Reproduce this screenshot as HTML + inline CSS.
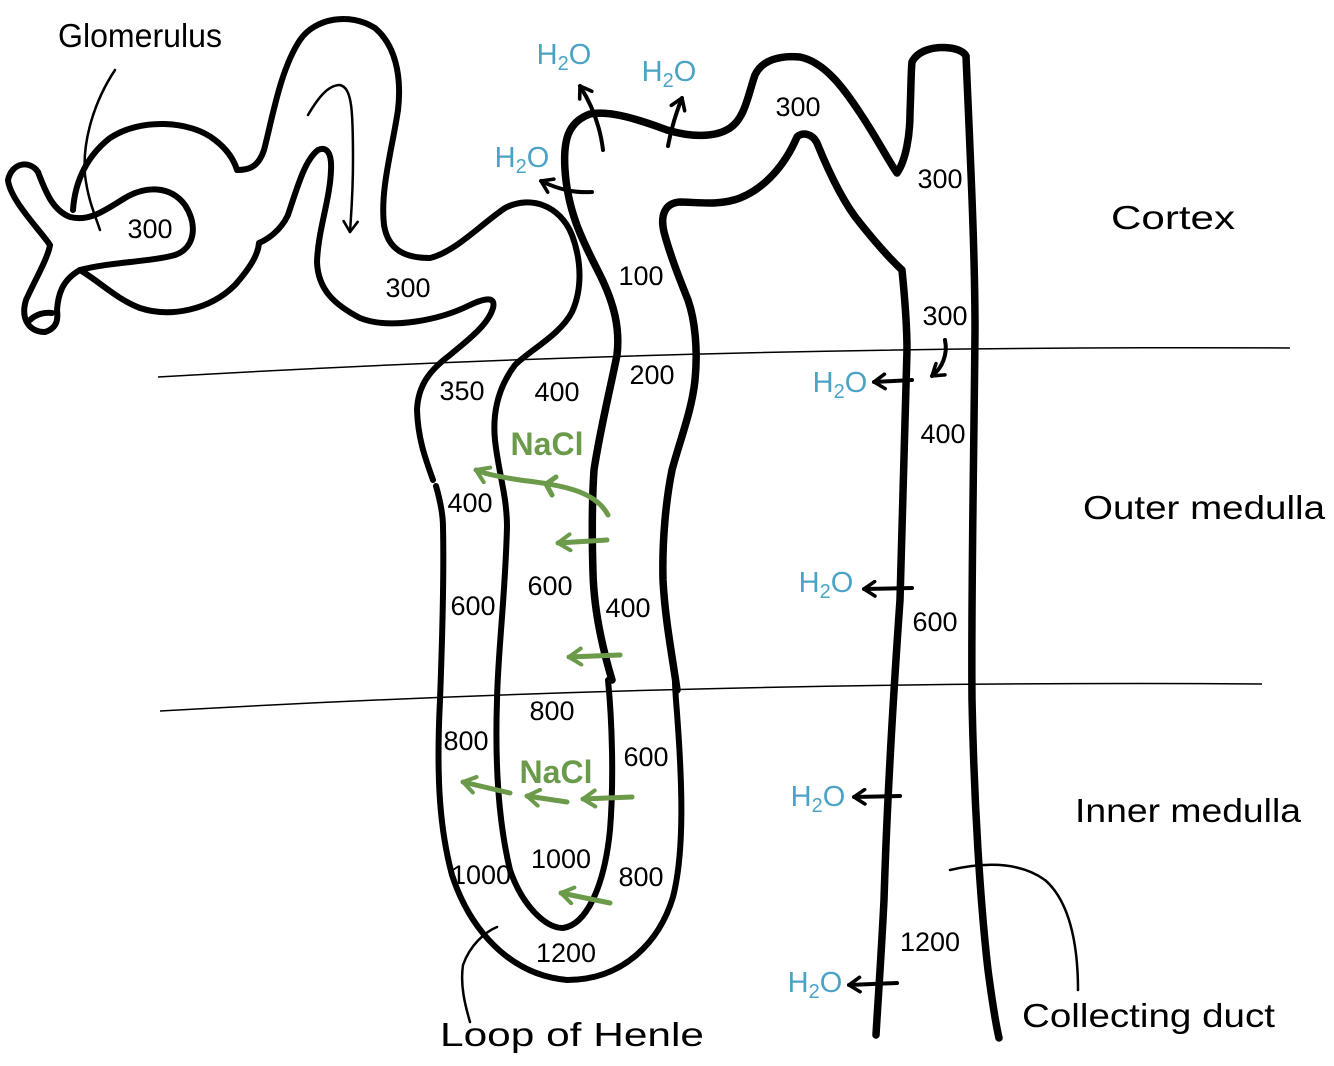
<!DOCTYPE html>
<html><head><meta charset="utf-8"><style>
html,body{margin:0;padding:0;background:#fff;}
svg{display:block;}
text{font-family:"Liberation Sans",sans-serif;}
</style></head><body>
<svg width="1334" height="1066" viewBox="0 0 1334 1066" xmlns="http://www.w3.org/2000/svg">
<defs>
<marker id="ah" viewBox="0 0 10 10" refX="8" refY="5" markerWidth="4.5" markerHeight="4.5" orient="auto"><path d="M2,1 L8,5 L2,9" fill="none" stroke="#000" stroke-width="2" stroke-linecap="round" stroke-linejoin="round"/></marker>
<marker id="ahs" viewBox="0 0 10 10" refX="8" refY="5" markerWidth="7" markerHeight="7" orient="auto"><path d="M2,1 L8,5 L2,9" fill="none" stroke="#000" stroke-width="1.5" stroke-linecap="round" stroke-linejoin="round"/></marker>
<marker id="gh" viewBox="0 0 10 10" refX="8" refY="5" markerWidth="4" markerHeight="4" orient="auto"><path d="M2,1 L8,5 L2,9" fill="none" stroke="#6a9a4a" stroke-width="2" stroke-linecap="round" stroke-linejoin="round"/></marker>
</defs>
<path d="M158,377 Q700,345 1290,348" fill="none" stroke="#000" stroke-width="1.5"/>
<path d="M160,711 Q700,680 1262,684" fill="none" stroke="#000" stroke-width="1.5"/>

<g fill="none" stroke="#000" stroke-width="6" stroke-linecap="round" stroke-linejoin="round">
<path d="M38,172 C30,160 12,162 8,180 C10,200 40,230 50,245 C48,258 35,280 26,300 C20,320 30,332 45,332 C58,328 58,318 57,310 C58,295 62,280 80,270"/>
<path d="M38,172 C45,190 52,210 70,217 C90,222 105,210 125,198 C145,186 170,185 185,205 C198,225 195,248 175,255 C150,262 110,262 80,270"/>
<path d="M30,320 C36,314 45,312 52,313"/>
<path d="M73,210 C75,180 88,155 110,138 C140,118 190,120 215,140 C228,150 234,160 237,170 C248,170 258,168 264,150 C272,120 280,70 300,40 C315,18 350,12 375,28 C395,45 402,75 398,110 C392,150 380,190 384,225 C388,250 405,258 430,258 C455,252 480,225 505,208 C530,195 560,205 572,235 C582,262 582,290 572,312 C560,335 530,350 515,365 C500,385 492,410 495,440 C497,460 502,480 505,500 C507,515 507,522 507,527"/>
<path d="M80,270 C100,282 118,300 140,308 C170,318 210,310 235,285 C250,268 258,255 259,243 C266,240 280,232 288,215 C298,185 305,160 318,150 C326,146 332,152 331,170 C330,200 318,230 317,262 C318,290 335,305 360,318 C390,330 440,320 470,305 C485,298 496,296 493,308 C488,325 468,340 450,355 C430,370 418,385 417,410 C418,440 426,460 433,480"/>
<path d="M436,486 C440,500 443,515 443,527"/>
<path d="M443,527 C444,570 443,620 440,700 C436,780 440,830 452,875 C470,930 510,975 567,980 C625,980 660,940 673,897 C685,850 682,780 677,713 C676,700 675,690 675,680"/>
<path d="M507,527 C505,600 498,650 497,700 C495,760 498,820 510,870 C522,905 545,928 563,928 C585,925 604,890 610,830 C614,780 612,720 608,680"/>
<path stroke-width="7.5" d="M612,680 C603,650 594,610 593,573 C592,540 592,500 594,470 C600,430 610,390 617,355 C620,330 615,305 600,275 C585,245 568,215 565,170 C563,140 568,122 590,114 C610,110 640,120 667,130 C690,137 715,138 730,128 C745,118 748,95 755,75 C762,60 780,55 800,57 C825,62 845,90 860,113 C875,135 888,160 897,173 C906,160 910,135 910,113 C911,90 911,70 912,62 C918,50 935,46 950,48 C958,49 964,52 966,56"/>
<path stroke-width="7.5" d="M677,690 C673,660 665,620 663,580 C662,540 666,500 672,470 C680,440 692,410 695,380 C698,350 695,320 688,300 C680,280 670,255 664,232 C660,215 665,203 680,202 C695,202 720,206 740,198 C765,188 785,165 797,137 C802,132 812,133 817,143 C830,175 845,205 860,223 C872,238 888,257 902,270 C905,300 907,330 907,350 C906,400 903,500 900,600 C893,700 887,800 884,900 C881,960 878,1000 876,1035"/>
<path stroke-width="7.5" d="M966,56 C970,150 975,250 975,330 C974,450 971,600 972,700 C974,800 980,900 988,970 C992,1000 996,1025 999,1038"/>
</g>
<g fill="none" stroke="#000" stroke-width="2.5" stroke-linecap="round">
<path d="M115,70 C95,100 82,140 85,175 C88,200 95,215 100,230"/>
<path d="M497,927 C485,932 470,945 463,965 C460,985 465,1005 470,1022"/>
<path d="M950,870 C985,862 1020,862 1045,880 C1068,900 1078,940 1078,990"/>
<path d="M308,115 C318,98 328,85 340,85 C352,88 353,110 353,160 C353,195 351,215 350,232" marker-end="url(#ahs)"/>
</g>
<g fill="none" stroke="#000" stroke-width="4" stroke-linecap="round">
<path d="M603,150 C600,125 592,105 580,86" marker-end="url(#ah)"/>
<path d="M668,146 C672,125 678,108 682,98" marker-end="url(#ah)"/>
<path d="M592,192 C575,193 560,190 541,181" marker-end="url(#ah)"/>
<path d="M945,340 C948,355 942,368 932,376" marker-end="url(#ah)"/>
<path d="M912,380 L874,382" marker-end="url(#ah)"/>
<path d="M912,588 L864,589" marker-end="url(#ah)"/>
<path d="M900,796 L854,797" marker-end="url(#ah)"/>
<path d="M897,983 L849,985" marker-end="url(#ah)"/>
</g>
<g fill="none" stroke="#6a9a4a" stroke-width="5" stroke-linecap="round" stroke-linejoin="round">
<path d="M608,515 C595,490 560,485 520,480 C500,477 485,474 476,470" marker-end="url(#gh)"/>
<path d="M556,477 L546,484 L552,495"/>
<path d="M607,540 L558,543" marker-end="url(#gh)"/>
<path d="M620,655 L569,657" marker-end="url(#gh)"/>
<path d="M510,793 L463,782" marker-end="url(#gh)"/>
<path d="M567,802 L527,796" marker-end="url(#gh)"/>
<path d="M632,797 L583,799" marker-end="url(#gh)"/>
<path d="M610,903 L561,893" marker-end="url(#gh)"/>
</g>
<g font-size="27" fill="#000" text-anchor="middle">
<text x="150" y="238">300</text>
<text x="408" y="297">300</text>
<text x="462" y="400">350</text>
<text x="557" y="401">400</text>
<text x="652" y="384">200</text>
<text x="641" y="285">100</text>
<text x="470" y="512">400</text>
<text x="550" y="595">600</text>
<text x="473" y="615">600</text>
<text x="628" y="617">400</text>
<text x="552" y="720">800</text>
<text x="466" y="750">800</text>
<text x="646" y="766">600</text>
<text x="561" y="868">1000</text>
<text x="481" y="884">1000</text>
<text x="641" y="886">800</text>
<text x="566" y="962">1200</text>
<text x="798" y="116">300</text>
<text x="940" y="188">300</text>
<text x="945" y="325">300</text>
<text x="943" y="443">400</text>
<text x="935" y="631">600</text>
<text x="930" y="951">1200</text>
</g>
<g font-size="32" font-weight="bold" fill="#6a9a4a" text-anchor="middle">
<text x="547" y="455">NaCl</text>
<text x="556" y="783">NaCl</text>
</g>
<g font-size="29" fill="#4aa3c5" text-anchor="middle">
<text x="564" y="64">H<tspan font-size="20" dy="6">2</tspan><tspan dy="-6">O</tspan></text>
<text x="669" y="81">H<tspan font-size="20" dy="6">2</tspan><tspan dy="-6">O</tspan></text>
<text x="522" y="167">H<tspan font-size="20" dy="6">2</tspan><tspan dy="-6">O</tspan></text>
<text x="840" y="392">H<tspan font-size="20" dy="6">2</tspan><tspan dy="-6">O</tspan></text>
<text x="826" y="592">H<tspan font-size="20" dy="6">2</tspan><tspan dy="-6">O</tspan></text>
<text x="818" y="806">H<tspan font-size="20" dy="6">2</tspan><tspan dy="-6">O</tspan></text>
<text x="815" y="992">H<tspan font-size="20" dy="6">2</tspan><tspan dy="-6">O</tspan></text>
</g>
<g font-size="33" fill="#000">
<text x="58" y="47" textLength="164" lengthAdjust="spacingAndGlyphs">Glomerulus</text>
<text x="1111" y="229" textLength="124" lengthAdjust="spacingAndGlyphs">Cortex</text>
<text x="1083" y="519" textLength="242" lengthAdjust="spacingAndGlyphs">Outer medulla</text>
<text x="1075" y="822" textLength="226" lengthAdjust="spacingAndGlyphs">Inner medulla</text>
<text x="1022" y="1027" textLength="253" lengthAdjust="spacingAndGlyphs">Collecting duct</text>
<text x="440" y="1046" textLength="264" lengthAdjust="spacingAndGlyphs">Loop of Henle</text>
</g>
</svg>
</body></html>
